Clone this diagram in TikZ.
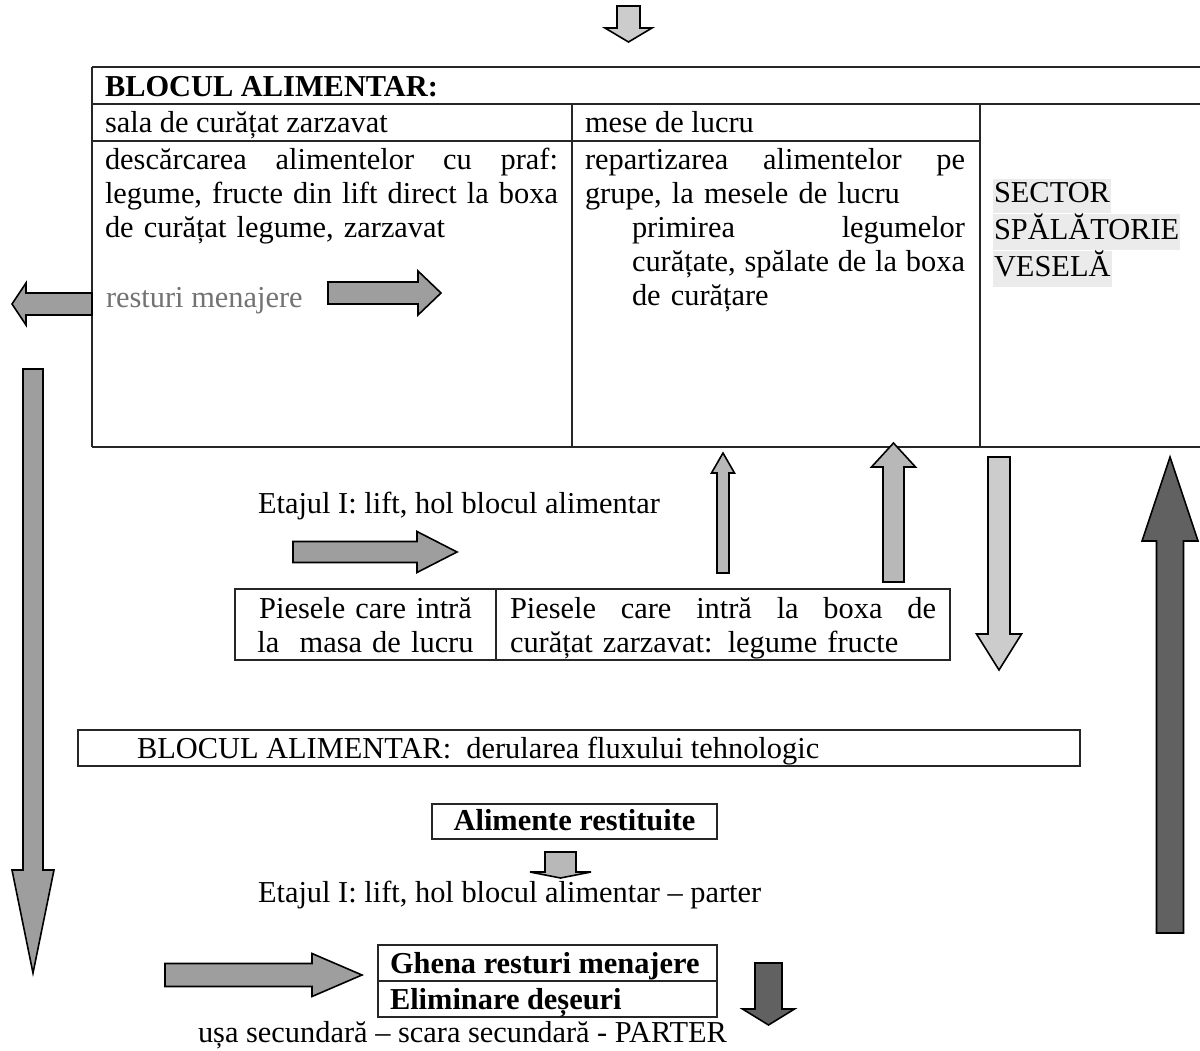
\documentclass[tikz,border=0pt]{standalone}
\usepackage{fontspec}
\setmainfont{Liberation Serif}
\definecolor{cA}{gray}{0.80}
\definecolor{cB}{gray}{0.72}
\definecolor{cC}{gray}{0.62}
\definecolor{cD}{gray}{0.38}
\definecolor{hl}{gray}{0.92}
\definecolor{txtgray}{gray}{0.45}
% horizontal block arrow: fill, tail x, head-base x, tip x, centre y, half shaft, half head
\newcommand\HArr[7]{\filldraw[blk=#1] (#2,#5-#6) -- (#3,#5-#6) -- (#3,#5-#7) -- (#4,#5) -- (#3,#5+#7) -- (#3,#5+#6) -- (#2,#5+#6) -- cycle;}
% vertical block arrow: fill, tail y, head-base y, tip y, centre x, half shaft, half head
\newcommand\VArr[7]{\filldraw[blk=#1] (#5-#6,#2) -- (#5-#6,#3) -- (#5-#7,#3) -- (#5,#4) -- (#5+#7,#3) -- (#5+#6,#3) -- (#5+#6,#2) -- cycle;}
\newcommand\hlbox[1]{{\setlength{\fboxsep}{0pt}\colorbox{hl}{\strut\kern1pt #1\kern1pt}}}
\begin{document}
\begin{tikzpicture}[x=1pt,y=-1pt,
  tx/.style={inner sep=0pt,outer sep=0pt,font=\fontsize{30.4}{34}\selectfont},
  tb/.style={tx,font=\fontsize{30.4}{34}\selectfont\bfseries},
  bx/.style={draw=black!85,line width=1.4pt},
  blk/.style={draw=black,line width=1.6pt,line join=miter,fill=#1}]
\fill[white] (0,0) rectangle (1200,1051);
\useasboundingbox (0,0) rectangle (1200,1051);

% ---- main table ----
\draw[bx] (92,67) -- (1200,67);
\draw[bx] (92,104) -- (1200,104);
\draw[bx] (92,141) -- (980,141);
\draw[bx] (92,447) -- (1200,447);
\draw[bx] (92,67) -- (92,447);
\draw[bx] (572,104) -- (572,447);
\draw[bx] (980,104) -- (980,447);

\node[tb,anchor=base west] (hdr) at (105,97) {BLOCUL ALIMENTAR:};
\node[tx,anchor=base west] (sala) at (105,133) {sala de curățat zarzavat};
\node[tx,anchor=base west] (mese) at (585,133) {mese de lucru};
\node[tx,anchor=north west,text width=453pt,align=left] (c1) at (105,170-23.8)
  {\strut descărcarea\hfill alimentelor\hfill cu\hfill praf:\\legume,\hfill fructe\hfill din\hfill lift\hfill direct\hfill la\hfill boxa\\de curățat legume, zarzavat};
\node[tx,anchor=north west,text width=380pt,align=left] (c2) at (585,170-23.8)
  {\strut repartizarea\hfill alimentelor\hfill pe\\grupe, la mesele de lucru};
\node[tx,anchor=north west,text width=333pt,align=left] (c2b) at (632,238-23.8)
  {\strut primirea\hfill legumelor\\curățate,\hfill spălate\hfill de\hfill la\hfill boxa\\de curățare};
\node[tx,anchor=north west,text width=200pt,align=left] (sector) at (993,203-23.8)
  {\hlbox{SECTOR}\\\hlbox{SPĂLĂTORIE}\\\hlbox{VESELĂ}};
\node[tx,anchor=base west,text=txtgray] (rest) at (106,308) {resturi menajere};

% ---- middle ----
\node[tx,anchor=base west] (et1) at (258,513) {Etajul I: lift, hol blocul alimentar};
\draw[bx] (235,589) rectangle (950,660);
\draw[bx] (496,589) -- (496,660);
\node[tx,anchor=north,text width=255pt,align=center] (pm) at (365.5,618-23.8)
  {\strut Piesele care intră\\la\ \ masa de lucru};
\node[tx,anchor=north west,text width=426pt,align=left] (pb) at (510,618-23.8)
  {\strut Piesele\hfill care\hfill intră\hfill la\hfill boxa\hfill de\\curățat zarzavat: legume fructe};

\draw[bx] (78,730) rectangle (1080,766);
\node[tx,anchor=base west] (flux) at (137,758) {BLOCUL ALIMENTAR:\ \ derularea fluxului tehnologic};

\draw[bx] (432,804) rectangle (717,839);
\node[tb,anchor=base] (alim) at (574.5,830) {Alimente restituite};
\node[tx,anchor=base west] (et2) at (258,902) {Etajul I: lift, hol blocul alimentar – parter};

\draw[bx] (378,945) rectangle (717,1017);
\draw[bx] (378,981) -- (717,981);
\node[tb,anchor=base west] (ghena) at (390,973) {Ghena resturi menajere};
\node[tb,anchor=base west] (elim) at (390,1009) {Eliminare deșeuri};
\node[tx,anchor=base west] (usa) at (198,1042) {ușa secundară – scara secundară - PARTER};

% ---- block arrows ----
\VArr{cA}{6}{28}{42}{628.5}{11.5}{23.5}
\HArr{cC}{92}{26}{12}{304}{11}{21}
\HArr{cC}{328}{418}{441}{293}{11}{22}
\VArr{cC}{369}{870}{973}{33}{10}{21}
\HArr{cC}{293}{417}{457}{552}{10.5}{20.5}
\VArr{cB}{573}{473}{453}{723}{6}{11.5}
\VArr{cB}{582}{467}{443}{893.5}{10.5}{22}
\VArr{cA}{457}{634}{670}{999}{11}{22.5}
\VArr{cD}{933}{541}{457}{1170}{13.5}{28}
\VArr{cB}{852}{872}{878}{560.5}{15.5}{30.5}
\HArr{cC}{165}{312}{362}{975}{11.5}{21.5}
\VArr{cD}{963}{1009}{1025}{768.5}{13.5}{26}
\end{tikzpicture}
\end{document}
